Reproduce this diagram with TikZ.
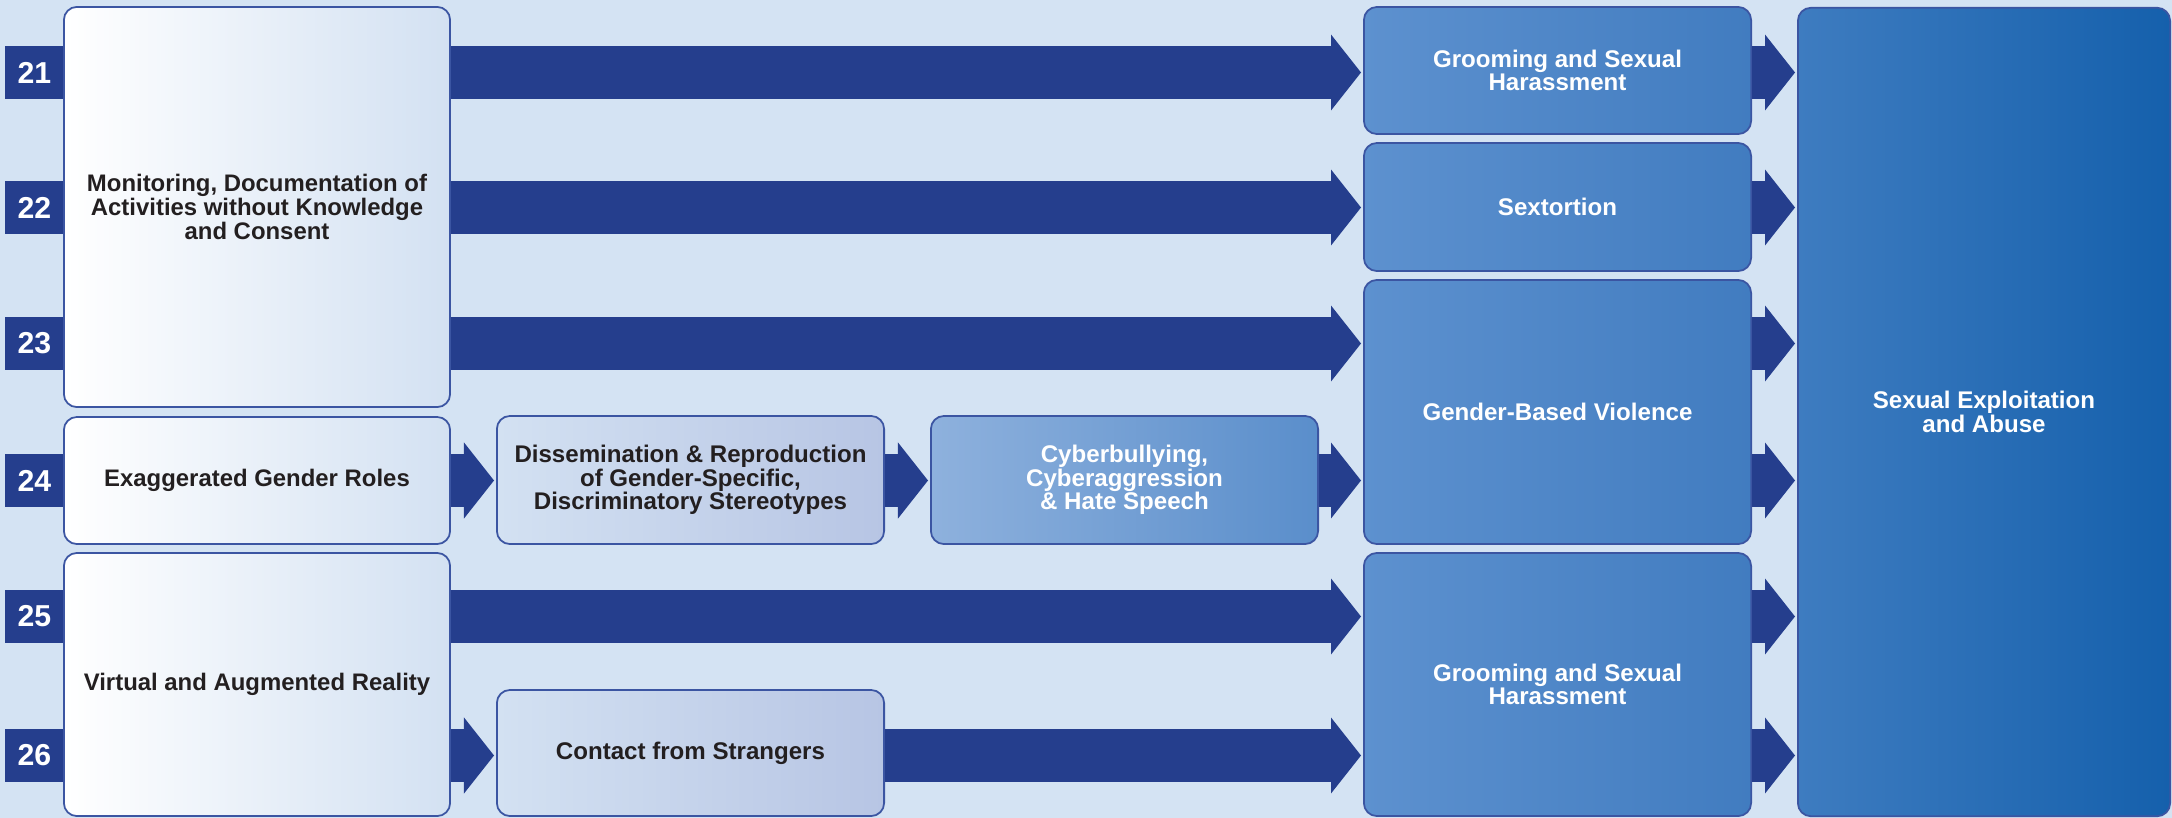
\documentclass[tikz,border=0pt]{standalone}
\usepackage{fontspec}
\setmainfont{Liberation Sans}
\usetikzlibrary{arrows.meta, positioning}

\definecolor{bgblue}{HTML}{D4E3F3}
\definecolor{navy}{HTML}{253E8D}
\definecolor{edgeblue}{HTML}{3B55A2}
\definecolor{txtdark}{HTML}{231F20}
\definecolor{midleft}{HTML}{D3E1F2}
\definecolor{midright}{HTML}{B7C5E4}
\definecolor{cybleft}{HTML}{8EB1DD}
\definecolor{cybright}{HTML}{5A8ECB}
\definecolor{outleft}{HTML}{5D91CF}
\definecolor{outright}{HTML}{417CC0}
\definecolor{bigleft}{HTML}{3E7CC0}
\definecolor{bigright}{HTML}{1560AC}

\newcommand\numfont{\fontsize{8.6}{9}\selectfont\bfseries}
\newcommand\leftfont{\fontsize{6.8}{6.95}\selectfont\bfseries}
\newcommand\innerfont{\fontsize{6.85}{6.7}\selectfont\bfseries}

\tikzset{
  numbox/.style={fill=navy, text=white, font=\numfont, minimum width=0.59cm, minimum height=0.53cm, inner sep=0pt},
  box/.style={draw=edgeblue, line width=0.5pt, rounded corners=0.13cm, align=center, inner sep=0pt},
  leftbox/.style={box, left color=white, right color=midleft, text=txtdark, font=\leftfont, minimum width=3.86cm},
  midbox/.style={box, left color=midleft, right color=midright, text=txtdark, font=\innerfont, minimum width=3.87cm},
  cybbox/.style={box, left color=cybleft, right color=cybright, text=white, font=\innerfont, minimum width=3.87cm},
  outbox/.style={box, left color=outleft, right color=outright, text=white, font=\innerfont, minimum width=3.87cm},
  bigbox/.style={box, left color=bigleft, right color=bigright, text=white, font=\innerfont, minimum width=3.72cm},
  fat/.style={draw=navy, line width=0.53cm, -{Triangle[length=0.30cm, width=0.76cm, line width=0pt]}, shorten >=0.02cm}
}

\begin{document}
\begin{tikzpicture}[x=0.01cm, y=-0.01cm]

  \useasboundingbox (0,0) rectangle (2172,818);
  \fill[bgblue] (0,0) rectangle (2172,818);

  % row numbers
  \node[numbox] (n21) at (34.5,72.5) {21};
  \node[numbox] (n22) at (34.5,207.5) {22};
  \node[numbox] (n23) at (34.5,343.5) {23};
  \node[numbox] (n24) at (34.5,480.5) {24};
  \node[numbox] (n25) at (34.5,616.5) {25};
  \node[numbox] (n26) at (34.5,755.5) {26};

  % sources
  \node[leftbox, minimum height=4.00cm] (mon) at (257,207) {Monitoring, Documentation of\\Activities without Knowledge\\and Consent};
  \node[leftbox, minimum height=1.27cm] (exag) at (257,480.5) {Exaggerated Gender Roles};
  \node[leftbox, minimum height=2.63cm] (virt) at (257,684.5) {Virtual and Augmented Reality};

  % intermediate steps
  \node[midbox, minimum height=1.28cm] (diss) at (690.5,480) {Dissemination \& Reproduction\\of Gender-Specific,\\Discriminatory Stereotypes};
  \node[cybbox, minimum height=1.28cm] (cyber) at (1124.5,480) {Cyberbullying,\\Cyberaggression\\\& Hate Speech};
  \node[midbox, minimum height=1.26cm] (contact) at (690.5,753) {Contact from Strangers};

  % outcomes
  \node[outbox, minimum height=1.27cm] (groom1) at (1557.5,70.5) {Grooming and Sexual\\Harassment};
  \node[outbox, minimum height=1.28cm] (sext) at (1557.5,207) {Sextortion};
  \node[outbox, minimum height=2.64cm] (gbv) at (1557.5,412) {Gender-Based Violence};
  \node[outbox, minimum height=2.63cm] (groom2) at (1557.5,684.5) {Grooming and Sexual\\Harassment};
  \node[bigbox, minimum height=8.08cm] (sea) at (1984,412) {Sexual Exploitation\\and Abuse};

  % connectors
  \draw[fat] (mon.east |- n21) -- (groom1.west |- n21);
  \draw[fat] (mon.east |- n22) -- (sext.west |- n22);
  \draw[fat] (mon.east |- n23) -- (gbv.west |- n23);
  \draw[fat] (exag.east |- n24) -- (diss.west |- n24);
  \draw[fat] (diss.east |- n24) -- (cyber.west |- n24);
  \draw[fat] (cyber.east |- n24) -- (gbv.west |- n24);
  \draw[fat] (virt.east |- n25) -- (groom2.west |- n25);
  \draw[fat] (virt.east |- n26) -- (contact.west |- n26);
  \draw[fat] (contact.east |- n26) -- (groom2.west |- n26);

  \draw[fat] (groom1.east |- n21) -- (sea.west |- n21);
  \draw[fat] (sext.east |- n22) -- (sea.west |- n22);
  \draw[fat] (gbv.east |- n23) -- (sea.west |- n23);
  \draw[fat] (gbv.east |- n24) -- (sea.west |- n24);
  \draw[fat] (groom2.east |- n25) -- (sea.west |- n25);
  \draw[fat] (groom2.east |- n26) -- (sea.west |- n26);

\end{tikzpicture}
\end{document}
